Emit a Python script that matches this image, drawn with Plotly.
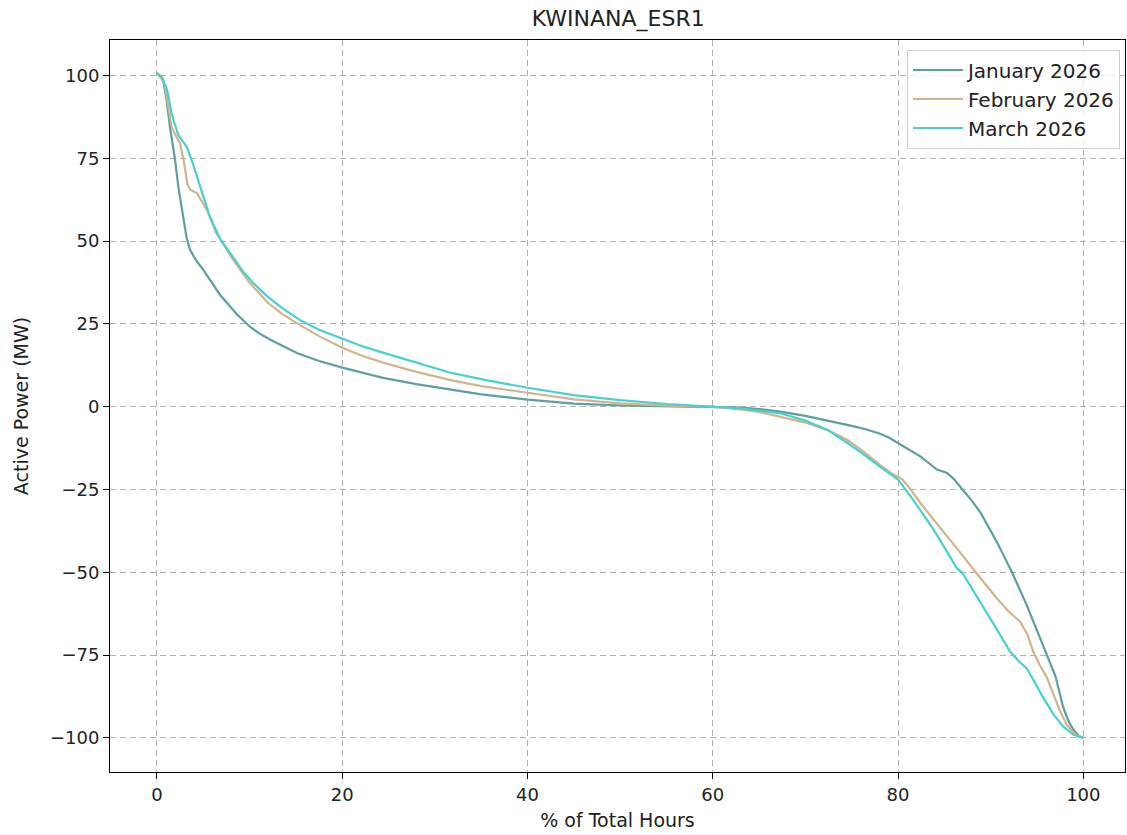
import plotly.graph_objects as go

title_text = "KWINANA_ESR1"
x_label = "% of Total Hours"
y_label = "Active Power (MW)"

series_names = ["January 2026", "February 2026", "March 2026"]
series_colors = ["#5F9EA0", "#D2B48C", "#48D1CC"]

jan_x = [0, 0.5, 0.68, 1.04, 1.4, 1.94, 2.3, 2.84, 3.2, 3.56, 4.2, 5.0, 6.8, 8.6, 9.3, 10.0, 11.0, 12.2, 15.1, 17.5, 20, 22, 24.4, 28, 31.6, 35, 40, 45, 50, 55, 60, 63, 65, 67.3, 70, 72.5, 75, 76.5, 78, 79, 80, 81, 82.4, 84.2, 85.3, 86, 87, 88, 88.9, 89.8, 90.7, 91.5, 92.3, 93.9, 95.0, 96.1, 97, 97.8, 98.4, 98.9, 99.5, 100]
jan_y = [100.7, 99.5, 98.6, 92.6, 84.5, 74.8, 66.5, 56.4, 51, 47.4, 44.2, 41.3, 33.8, 28, 26, 24.2, 22.2, 20.3, 16.2, 13.8, 11.8, 10.3, 8.7, 6.8, 5.1, 3.7, 2.1, 0.9, 0.35, 0.1, 0, -0.3, -0.7, -1.5, -2.8, -4.2, -5.8, -6.8, -8.1, -9.3, -10.9, -12.6, -15, -19, -20, -21.8, -25, -28.5, -32, -36.5, -41, -45.5, -50, -60, -67.5, -75, -81.4, -90.5, -95, -97.4, -99.4, -100]

feb_x = [0, 0.5, 0.86, 1.2, 1.58, 2.0, 2.5, 2.9, 3.3, 3.6, 4.3, 5.4, 6.4, 8.2, 10, 12, 13.5, 15.4, 17.5, 20, 22, 24.4, 28, 31.6, 35, 40, 45, 50, 55, 60, 63, 65, 67.3, 70, 72.5, 74.5, 76, 78, 79.5, 80.5, 81.5, 82.4, 83.8, 85.3, 86.7, 88.1, 89.5, 90.7, 92, 93.2, 94, 94.6, 95.3, 96.1, 96.8, 97.5, 98.2, 98.8, 99.4, 100]
feb_y = [100.7, 99, 97, 91.5, 84.5, 82, 79.5, 74, 67, 65.5, 64.5, 59.4, 52.4, 44.5, 37.4, 31.3, 28, 24.7, 21.3, 17.8, 15.5, 13.3, 10.5, 8.1, 6.2, 4.2, 2.2, 1.0, 0.3, 0, -0.8, -1.6, -3, -4.8, -7.2, -10, -13, -17.5, -20.5, -22, -25.5, -29, -34, -39, -44, -49, -54, -58, -62, -65, -69, -74, -78, -82, -87, -92, -96, -98, -99.5, -100]

mar_x = [0, 0.5, 1.1, 1.58, 1.9, 2.3, 2.8, 3.2, 3.74, 4.64, 5.7, 6.8, 8, 9.3, 10.5, 11.9, 13.5, 15.4, 17.5, 20, 22, 24.4, 28, 31.6, 35, 40, 45, 50, 55, 60, 63, 65, 67.3, 70, 72.5, 74.5, 76, 78, 80, 81.6, 82.7, 83.8, 85, 86.4, 86.9, 87.9, 88.9, 90.5, 92.1, 93.1, 93.9, 94.8, 95.7, 96.8, 97.8, 98.9, 100]
mar_y = [100.7, 99.5, 95.6, 88.6, 85.5, 82, 80, 78.5, 74.5, 66.5, 57.4, 50.7, 45.8, 40.8, 37, 33.3, 29.8, 26.2, 23.2, 20.4, 18.4, 16.3, 13.2, 10.3, 8.3, 5.7, 3.5, 2, 0.8, 0, -0.5, -1.2, -2, -4.2, -7.2, -10.9, -13.8, -18, -22, -28, -32.5, -37, -42.5, -49, -50, -54.5, -59, -66.5, -74, -77, -79, -83.5, -88, -93, -96.5, -99, -100]

x_ticks = [0, 20, 40, 60, 80, 100]
y_ticks = [-100, -75, -50, -25, 0, 25, 50, 75, 100]

fig = go.Figure()
for name, color, xs, ys in zip(series_names, series_colors,
                               [jan_x, feb_x, mar_x], [jan_y, feb_y, mar_y]):
    fig.add_trace(go.Scatter(x=xs, y=ys, mode="lines", name=name,
                             line=dict(color=color, width=2.2)))

axis_common = dict(
    showline=True, linecolor="black", linewidth=1, mirror=True,
    ticks="outside", ticklen=6, tickcolor="black", tickwidth=1,
    showgrid=True, gridcolor="#b0b0b0", gridwidth=1, griddash="6px,4px",
    zeroline=False, tickfont=dict(size=18, color="#222"),
)

fig.update_layout(
    width=1127, height=835,
    margin=dict(l=110, r=2, t=40, b=63),
    paper_bgcolor="white", plot_bgcolor="white",
    font=dict(family="DejaVu Sans", color="#222"),
    title=dict(text=title_text, x=0.5485, xanchor="center", y=0.978, yanchor="middle",
               font=dict(size=22, color="#222")),
    xaxis=dict(range=[-5.07, 104.5], tickvals=x_ticks,
               title=dict(text=x_label, font=dict(size=19), standoff=10), **axis_common),
    yaxis=dict(range=[-110.3, 110.7], tickvals=y_ticks,
               title=dict(text=y_label, font=dict(size=19), standoff=16), **axis_common),
    legend=dict(x=0.995, y=0.987, xanchor="right", yanchor="top",
                bgcolor="rgba(255,255,255,0.8)", bordercolor="#d0d0d0", borderwidth=1,
                font=dict(size=20, color="#222"), itemwidth=50),
    showlegend=True,
)

fig.write_html("out.html", config={"displayModeBar": False},
               post_script="document.body.style.margin='0px';document.body.style.padding='0px';")
